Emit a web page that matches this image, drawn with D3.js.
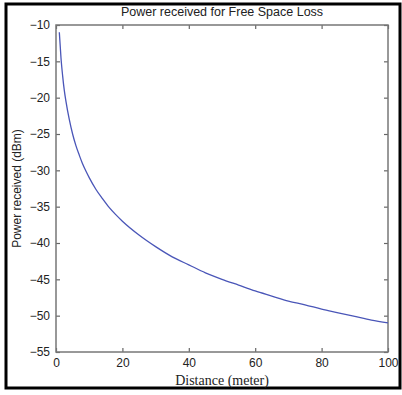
<!DOCTYPE html>
<html lang="en">
<head>
  <meta charset="UTF-8">
  <title>Power received for Free Space Loss</title>
  <script src="https://d3js.org/d3.v7.min.js"></script>
  <style>
    body { margin: 0; background: #fff; }
    .tick text { font-family: "Liberation Sans", Arial, sans-serif; font-size: 12px; fill: #222; }
  </style>
</head>
<body>
  <svg id="chart" width="402" height="395"></svg>
  <script>
    // values
    const distance = [1, 1.5, 2, 2.5, 3, 4, 5, 6, 7, 8, 9, 10, 12, 14, 16, 18, 20, 25, 30, 35, 40, 45, 50, 55, 60, 65, 70, 75, 80, 85, 90, 95, 100];
    const power = [-11, -14.5, -17, -19, -20.5, -23, -25, -26.6, -27.9, -29.1, -30.1, -31, -32.6, -33.9, -35.1, -36.1, -37, -38.9, -40.5, -41.9, -43, -44.1, -45, -45.8, -46.6, -47.3, -48, -48.5, -49.1, -49.6, -50.1, -50.6, -51];
    const xTicks = [0, 20, 40, 60, 80, 100];
    const yTicks = [-10, -15, -20, -25, -30, -35, -40, -45, -50, -55];

    const margin = { top: 25, right: 14, bottom: 43, left: 56 };
    const width = 402 - margin.left - margin.right;
    const height = 395 - margin.top - margin.bottom;

    const root = d3.select("#chart");

    // outer black frame
    root.append("rect")
      .attr("x", 6).attr("y", 4)
      .attr("width", 394).attr("height", 384)
      .attr("fill", "none")
      .attr("stroke", "#000")
      .attr("stroke-width", 3);

    const svg = root.append("g")
      .attr("transform", `translate(${margin.left},${margin.top})`);

    const x = d3.scaleLinear().domain([0, 100]).range([0, width]);
    const y = d3.scaleLinear().domain([-55, -10]).range([height, 0]);

    const styleAxis = g => {
      g.select(".domain").remove();
      g.selectAll(".tick line").attr("stroke", "#666").attr("stroke-width", 1.2);
    };

    svg.append("g")
      .attr("transform", `translate(0,${height})`)
      .call(d3.axisBottom(x).tickValues(xTicks).tickSizeInner(-4).tickSizeOuter(0).tickPadding(6))
      .call(styleAxis);

    svg.append("g")
      .call(d3.axisLeft(y).tickValues(yTicks).tickSizeInner(-4).tickSizeOuter(0).tickPadding(6))
      .call(styleAxis);

    // ticks on the top and right edges
    svg.append("g")
      .call(d3.axisTop(x).tickValues(xTicks).tickSizeInner(-4).tickSizeOuter(0).tickFormat(""))
      .call(styleAxis);
    svg.append("g")
      .attr("transform", `translate(${width},0)`)
      .call(d3.axisRight(y).tickValues(yTicks).tickSizeInner(-4).tickSizeOuter(0).tickFormat(""))
      .call(styleAxis);

    svg.append("rect")
      .attr("width", width).attr("height", height)
      .attr("fill", "none")
      .attr("stroke", "#777")
      .attr("stroke-width", 1.5);

    const points = distance.map((d, i) => ({ d: d, p: power[i] }));
    svg.append("path")
      .datum(points)
      .attr("fill", "none")
      .attr("stroke", "#4a56b8")
      .attr("stroke-width", 1.3)
      .attr("d", d3.line()
        .curve(d3.curveMonotoneX)
        .x(d => x(d.d))
        .y(d => y(d.p)));

    svg.append("text")
      .attr("x", width / 2).attr("y", -9)
      .attr("text-anchor", "middle")
      .style("font-family", "Liberation Sans, Arial, sans-serif")
      .style("font-size", "12.5px")
      .attr("fill", "#222")
      .text("Power received for Free Space Loss");

    svg.append("text")
      .attr("x", width / 2).attr("y", height + 33)
      .attr("text-anchor", "middle")
      .style("font-family", "Liberation Serif, Times New Roman, serif")
      .style("font-size", "14px")
      .attr("fill", "#222")
      .text("Distance (meter)");

    svg.append("text")
      .attr("transform", `translate(${-35},${height / 2}) rotate(-90)`)
      .attr("text-anchor", "middle")
      .style("font-family", "Liberation Sans, Arial, sans-serif")
      .style("font-size", "12px")
      .attr("fill", "#222")
      .text("Power received (dBm)");
  </script>
</body>
</html>
